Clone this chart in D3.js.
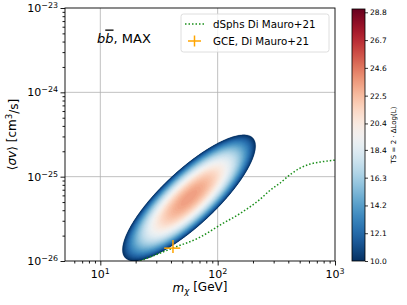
<!DOCTYPE html>
<html><head><meta charset="utf-8">
<script src="https://cdn.jsdelivr.net/npm/d3@7"></script>
<style>
html,body{margin:0;padding:0;background:#fff;}
svg{display:block;font-family:"DejaVu Sans",sans-serif;}
</style></head>
<body>
<svg id="chart" width="407" height="305"></svg>
<script>
// ---------------- data ----------------
const xDomain = [5, 1000];
const yDomain = [1e-26, 1e-23];
const xMajorTicks = [10, 100, 1000];
const xTickExp = ["1", "2", "3"];
const yMajorTicks = [1e-26, 1e-25, 1e-24, 1e-23];
const yTickExp = ["\u221226", "\u221225", "\u221224", "\u221223"];

// dSphs upper limit (Di Mauro+21)
const dsphMass   = [21.9, 41.8, 71, 105, 162, 230, 280, 340, 430, 503, 612, 745, 1000];
const dsphSigmaV = [1.0e-26, 1.43e-26, 1.92e-26, 2.67e-26, 3.8e-26, 5.4e-26, 6.9e-26, 8.4e-26, 1.1e-25, 1.26e-25, 1.41e-25, 1.49e-25, 1.57e-25];

// GCE best fit (Di Mauro+21) with errors
const gceMass = [41.6];
const gceMassErr = [[35, 48]];
const gceSigmaV = [1.42e-26];
const gceSigmaVErr = [[1.24e-26, 1.77e-26]];

// TS region (ellipse in log10 space): centre, half major axis vector, half minor axis vector
const tsCentreMass = 57;
const tsCentreSigmaV = 5.6e-26;
const tsMajorAxis = [0.545, 0.71];   // dlog10(m), dlog10(sv)
const tsMinorAxis = [-0.158, 0.236];
const tsPeak = 23.6;
const tsMin = 10.0;

// colour bar
const cbDomain = [10.0, 29.05];
const cbTicks = [10.0, 12.1, 14.2, 16.3, 18.4, 20.4, 22.5, 24.6, 26.7, 28.8];

// ---------------- layout ----------------
const svg = d3.select("#chart");
const X0 = 65, X1 = 335, Y0 = 8, Y1 = 261;
const x = d3.scaleLog().domain(xDomain).range([X0, X1]);
const y = d3.scaleLog().domain(yDomain).range([Y1, Y0]);
const cmap = t => d3.interpolateRdBu(1 - t);
const cNorm = d3.scaleLinear().domain(cbDomain).range([0, 1]).clamp(true);

svg.append("defs").append("clipPath").attr("id", "plotclip")
  .append("rect").attr("x", X0).attr("y", Y0).attr("width", X1 - X0).attr("height", Y1 - Y0);

// grid
const grid = svg.append("g").attr("stroke", "#b0b0b0").attr("stroke-width", 0.8);
xMajorTicks.slice(0, -1).forEach(v => grid.append("line").attr("x1", x(v)).attr("x2", x(v)).attr("y1", Y0).attr("y2", Y1));
yMajorTicks.slice(1, -1).forEach(v => grid.append("line").attr("y1", y(v)).attr("y2", y(v)).attr("x1", X0).attr("x2", X1));

// TS field via contours
const NX = 320, NY = 320;
const lx0 = Math.log10(xDomain[0]), lx1 = Math.log10(xDomain[1]);
const ly0 = Math.log10(yDomain[0]), ly1 = Math.log10(yDomain[1]);
const cx = Math.log10(tsCentreMass), cy = Math.log10(tsCentreSigmaV);
const [ax, ay] = tsMajorAxis, [bx, by] = tsMinorAxis;
const det = ax * by - bx * ay;
const values = new Float64Array(NX * NY);
for (let j = 0; j < NY; j++) {
  for (let i = 0; i < NX; i++) {
    const lx = lx0 + (i + 0.5) / NX * (lx1 - lx0);
    const ly = ly0 + (j + 0.5) / NY * (ly1 - ly0);
    const dx = lx - cx, dy = ly - cy;
    const s = (dx * by - bx * dy) / det;
    const t = (ax * dy - dx * ay) / det;
    values[j * NX + i] = tsPeak - (tsPeak - tsMin) * (s * s + t * t);
  }
}
const thresholds = d3.range(tsMin, tsPeak + 0.2, 0.2);
const contours = d3.contours().size([NX, NY]).thresholds(thresholds)(values);
const proj = d3.geoTransform({
  point: function (gx, gy) {
    const lx = lx0 + gx / NX * (lx1 - lx0);
    const ly = ly0 + gy / NY * (ly1 - ly0);
    this.stream.point(x(Math.pow(10, lx)), y(Math.pow(10, ly)));
  }
});
const path = d3.geoPath(proj);
svg.append("g").attr("clip-path", "url(#plotclip)")
  .selectAll("path").data(contours).join("path")
  .attr("d", path)
  .attr("fill", d => cmap(cNorm(d.value)))
  .attr("stroke", d => cmap(cNorm(d.value))).attr("stroke-width", 0.3);

// dSph line
const line = d3.line().x(d => x(d[0])).y(d => y(d[1])).curve(d3.curveMonotoneX);
svg.append("path").attr("clip-path", "url(#plotclip)")
  .attr("d", line(dsphMass.map((m, i) => [m, dsphSigmaV[i]])))
  .attr("fill", "none").attr("stroke", "#1a8f1a").attr("stroke-width", 1.5)
  .attr("stroke-dasharray", "1.5,2");

// GCE point
const gce = svg.append("g").attr("stroke", "#ffa500").attr("stroke-width", 1.5);
gceMass.forEach((m, i) => {
  gce.append("line").attr("x1", x(gceMassErr[i][0])).attr("x2", x(gceMassErr[i][1]))
    .attr("y1", y(gceSigmaV[i])).attr("y2", y(gceSigmaV[i]));
  gce.append("line").attr("x1", x(m)).attr("x2", x(m))
    .attr("y1", y(gceSigmaVErr[i][0])).attr("y2", y(gceSigmaVErr[i][1]));
});

// axes
function sup(sel, base, exp) {
  sel.text(null);
  sel.append("tspan").text(base);
  sel.append("tspan").attr("dy", "-0.5em").attr("font-size", "0.72em").text(exp);
}
const xMinor = [], yMinor = [];
for (let e = 0; e <= 3; e++) for (let k = 2; k <= 9; k++) { const v = k * Math.pow(10, e); if (v > xDomain[0] && v < xDomain[1]) xMinor.push(v); }
for (let e = -26; e <= -24; e++) for (let k = 2; k <= 9; k++) yMinor.push(k * Math.pow(10, e));

const gx = svg.append("g").attr("transform", `translate(0,${Y1})`);
gx.call(d3.axisBottom(x).tickValues(xMinor).tickSize(2.5).tickFormat(""));
gx.call(g => g.select(".domain").remove());
const gx2 = svg.append("g").attr("transform", `translate(0,${Y1})`)
  .call(d3.axisBottom(x).tickValues(xMajorTicks).tickSize(4.5).tickPadding(2).tickFormat(""));
gx2.select(".domain").remove();
gx2.selectAll(".tick text").remove();
xMajorTicks.forEach((v, i) => {
  const t = svg.append("text").attr("x", x(v)).attr("y", Y1 + 17).attr("text-anchor", "middle").attr("font-size", 11);
  sup(t, "10", xTickExp[i]);
});

const gy = svg.append("g").attr("transform", `translate(${X0},0)`);
gy.call(d3.axisLeft(y).tickValues(yMinor).tickSize(2.5).tickFormat(""));
gy.call(g => g.select(".domain").remove());
const gy2 = svg.append("g").attr("transform", `translate(${X0},0)`)
  .call(d3.axisLeft(y).tickValues(yMajorTicks).tickSize(4.5).tickFormat(""));
gy2.select(".domain").remove();
yMajorTicks.forEach((v, i) => {
  const t = svg.append("text").attr("x", X0 - 7).attr("y", y(v) + 4).attr("text-anchor", "end").attr("font-size", 11);
  sup(t, "10", yTickExp[i]);
});
svg.selectAll(".tick line").attr("stroke", "#000").attr("stroke-width", 0.9);

svg.append("rect").attr("x", X0).attr("y", Y0).attr("width", X1 - X0).attr("height", Y1 - Y0)
  .attr("fill", "none").attr("stroke", "#000").attr("stroke-width", 0.9);

// axis labels
const xl = svg.append("text").attr("x", (X0 + X1) / 2).attr("y", 292).attr("text-anchor", "middle").attr("font-size", 12);
xl.append("tspan").attr("font-style", "italic").text("m");
xl.append("tspan").attr("font-style", "italic").attr("font-size", "0.72em").attr("dy", "0.25em").text("\u03c7");
xl.append("tspan").attr("dy", "-0.25em").text(" [GeV]");

const yl = svg.append("text").attr("transform", `translate(16,${(Y0 + Y1) / 2}) rotate(-90)`).attr("text-anchor", "middle").attr("font-size", 12);
yl.append("tspan").text("\u27e8");
yl.append("tspan").attr("font-style", "italic").text("\u03c3v");
yl.append("tspan").text("\u27e9 [cm");
yl.append("tspan").attr("dy", "-0.45em").attr("font-size", "0.72em").text("3");
yl.append("tspan").attr("dy", "0.45em").text("/s]");

// annotation
const ann = svg.append("text").attr("x", 97).attr("y", 42.5).attr("font-size", 13);
ann.append("tspan").attr("font-style", "italic").text("b");
ann.append("tspan").attr("font-style", "italic").attr("text-decoration", "overline").text("b");
ann.append("tspan").text(", MAX");

// legend
const lg = svg.append("g");
lg.append("rect").attr("x", 181).attr("y", 14).attr("width", 148).attr("height", 38).attr("rx", 2.5)
  .attr("fill", "#fff").attr("fill-opacity", 0.8).attr("stroke", "#d5d5d5").attr("stroke-width", 0.8);
lg.append("line").attr("x1", 185).attr("x2", 205).attr("y1", 24).attr("y2", 24)
  .attr("stroke", "#1a8f1a").attr("stroke-width", 1.5).attr("stroke-dasharray", "1.5,2");
lg.append("line").attr("x1", 188).attr("x2", 201).attr("y1", 41).attr("y2", 41).attr("stroke", "#ffa500").attr("stroke-width", 1.5);
lg.append("line").attr("x1", 194.5).attr("x2", 194.5).attr("y1", 35.5).attr("y2", 46.5).attr("stroke", "#ffa500").attr("stroke-width", 1.5);
lg.append("text").attr("x", 213).attr("y", 28).attr("font-size", 10.3).text("dSphs Di Mauro+21");
lg.append("text").attr("x", 213).attr("y", 45).attr("font-size", 10.3).text("GCE, Di Mauro+21");

// colour bar
const CBX = 352, CBW = 13;
const cb = d3.scaleLinear().domain(cbDomain).range([Y1, 9]);
const grad = svg.select("defs").append("linearGradient").attr("id", "cbgrad")
  .attr("x1", 0).attr("y1", 1).attr("x2", 0).attr("y2", 0);
d3.range(0, 1.0001, 0.02).forEach(t => grad.append("stop").attr("offset", t).attr("stop-color", cmap(t)));
svg.append("rect").attr("x", CBX).attr("y", cb(cbDomain[1])).attr("width", CBW).attr("height", cb(cbDomain[0]) - cb(cbDomain[1]))
  .attr("fill", "url(#cbgrad)").attr("stroke", "#000").attr("stroke-width", 0.8);
const gcb = svg.append("g").attr("transform", `translate(${CBX + CBW},0)`)
  .call(d3.axisRight(cb).tickValues(cbTicks).tickSize(3).tickPadding(2).tickFormat(d3.format(".1f")));
gcb.select(".domain").remove();
gcb.selectAll("text").attr("font-size", 7.5).attr("font-family", "DejaVu Sans");
gcb.selectAll("line").attr("stroke", "#000").attr("stroke-width", 0.8);
svg.append("text").attr("transform", `translate(396,${(9 + Y1) / 2}) rotate(-90)`).attr("text-anchor", "middle")
  .attr("font-size", 7).text("TS = 2 \u00b7 \u0394Log(L)");
</script>
</body></html>
